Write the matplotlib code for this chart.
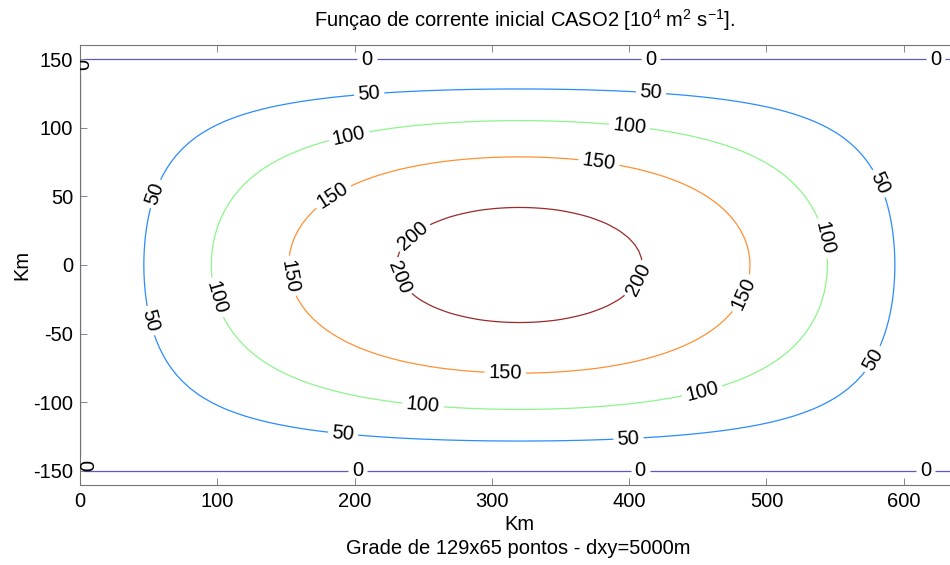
import numpy as np
import matplotlib
matplotlib.use('Agg')
import matplotlib.pyplot as plt

plt.rcParams['font.family'] = ['Liberation Sans', 'DejaVu Sans']
plt.rcParams['mathtext.default'] = 'regular'
plt.rcParams['axes.unicode_minus'] = False
plt.rcParams['font.size'] = 14.5

# grid 129x65, dxy = 5 km
nx, ny = 129, 65
dxy = 5.0
x = np.arange(nx) * dxy                      # 0 .. 640 km
y = (np.arange(ny) - (ny - 1) / 2) * dxy     # -160 .. 160 km

# initial stream function
psi_max = 221.0      # peak at domain centre
lx = 640.0           # zero at x = 0 and x = 640 km
y_zero = 150.0       # zero at y = +-150 km
X, Y = np.meshgrid(x, y)
psi = psi_max * np.sin(np.pi * X / lx) * np.cos(np.pi * Y / (2 * y_zero))

levels = [0, 50, 100, 150, 200]
line_colors = ['#5c5cb8', '#2a8cff', '#8cf58c', '#ff9033', '#9a2a2a']

# where the contour labels sit (km)
label_pos = [
    (209, 149.4), (415.5, 149.4), (623, 148), (202, -149.4), (408, -149.4), (616, -149.4),
    (1, 146), (1, -146),
    (211, 120), (415.5, 120), (57, 51), (579.6, 58.3), (47.4, -41.6), (576, -67.8),
    (191.7, -122.5), (399.5, -126),
    (197, 89), (399.5, 94.8), (98.4, -24), (535.8, 18.2), (250, -100.6), (452, -87.5),
    (186, 47.4), (377, 67.8), (149.5, -8.7), (484.8, -21.9), (309.8, -78),
    (239, 25.5), (233.3, -8.7), (403, -8.7),
]

W, H = 950, 565
fig = plt.figure(figsize=(W / 100, H / 100), dpi=100)
ax = fig.add_axes([80 / W, (H - 484.7) / H, 878.7 / W, 439.4 / H])

cs = ax.contour(x, y, psi, levels=levels, colors=line_colors, linewidths=0.9)
labels = ax.clabel(cs, manual=label_pos, inline=True, fontsize=14.5, colors='k',
                   fmt='%d', inline_spacing=4)
# labels on the domain edge are cut by the axes box, as in the original
for t in labels:
    t.set_clip_on(True)
    t.set_clip_path(ax.patch)
    tx, ty = t.get_position()
    if tx < 3:
        t.set_position((tx + 2.5, ty))

ax.set_xlim(0, 640)
ax.set_ylim(-160, 160)
ax.set_xticks(np.arange(0, 601, 100))
ax.set_yticks(np.arange(-150, 151, 50))
ax.tick_params(direction='in', length=5, width=0.6, color='0.45', top=True, right=True,
               pad=5, labelsize=14.5)
for s in ax.spines.values():
    s.set_color('0.45')
    s.set_linewidth(0.8)

fig.text(525 / W, 1 - 20 / H, 'Funçao de corrente inicial CASO2 [10$^4$ m$^2$ s$^{-1}$].',
         ha='center', va='center')
fig.text(519 / W, 1 - 525 / H, 'Km', ha='center', va='center')
fig.text(518 / W, 1 - 549 / H, 'Grade de 129x65 pontos - dxy=5000m', ha='center',
         va='center')
fig.text(22 / W, 1 - 265 / H, 'Km', ha='center', va='center', rotation=90)

fig.savefig('out.png', dpi=100)
